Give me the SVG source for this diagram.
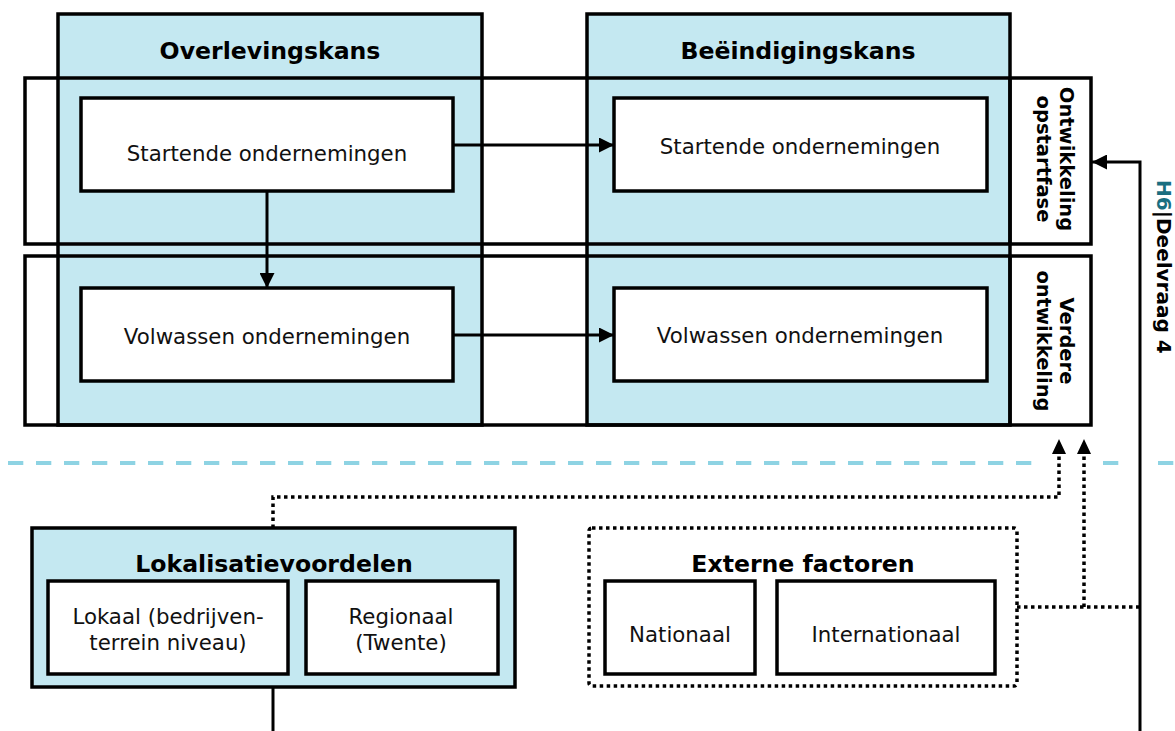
<svg xmlns="http://www.w3.org/2000/svg" width="1175" height="731" viewBox="0 0 1175 731">
<style>
.col{fill:#c4e8f1;stroke:#000;stroke-width:3.5}
.band{fill:none;stroke:#000;stroke-width:3.5}
.box{fill:#fff;stroke:#000;stroke-width:3.5}
.t{font-family:"DejaVu Sans",Verdana,sans-serif;font-size:21.3px;fill:#111;text-anchor:middle}
.h{font-family:"DejaVu Sans",Verdana,sans-serif;font-size:23.6px;font-weight:bold;fill:#000;text-anchor:middle}
.r{font-family:"DejaVu Sans",Verdana,sans-serif;font-size:19.5px;font-weight:bold;fill:#000;text-anchor:middle}
.c{fill:none;stroke:#000;stroke-width:3}
.d{fill:none;stroke:#000;stroke-width:3.5;stroke-dasharray:3.5 3.5}
</style>
<defs>
<marker id="ah" viewBox="0 0 10 10" refX="10" refY="5" markerWidth="5" markerHeight="5" orient="auto" markerUnits="strokeWidth">
<path d="M0,0 L10,5 L0,10 z" fill="#000"/>
</marker>
</defs>
<g id="separator">
<path d="M8,463 H1036 M1103,463 H1121 M1158,463 H1175" fill="none" stroke="#8ed3e3" stroke-width="4" stroke-dasharray="15.3 12.7"/>
</g>
<g id="col-overleving">
<rect class="col" x="58" y="14" width="424" height="411"/>
<text class="h" x="270" y="59">Overlevingskans</text>
</g>
<g id="col-beeindiging">
<rect class="col" x="587" y="14" width="423" height="411"/>
<text class="h" x="798" y="59">Beëindigingskans</text>
</g>
<g id="band-opstart">
<rect class="band" x="25" y="78" width="1066" height="166"/>
<rect x="1012" y="80" width="77" height="162" fill="#fff"/>
<line x1="1010" y1="78" x2="1010" y2="244" stroke="#000" stroke-width="3.5"/>
<text class="r" transform="translate(1060,159) rotate(90)"><tspan x="0" y="0">Ontwikkeling</tspan><tspan x="0" y="23">opstartfase</tspan></text>
</g>
<g id="band-verdere">
<rect class="band" x="25" y="256" width="1066" height="169"/>
<rect x="1012" y="258" width="77" height="165" fill="#fff"/>
<line x1="1010" y1="256" x2="1010" y2="425" stroke="#000" stroke-width="3.5"/>
<text class="r" transform="translate(1060,341) rotate(90)"><tspan x="0" y="0">Verdere</tspan><tspan x="0" y="23">ontwikkeling</tspan></text>
</g>
<g id="start-left">
<rect class="box" x="81" y="98" width="372" height="93"/>
<text class="t" x="267" y="161">Startende ondernemingen</text>
</g>
<g id="volw-left">
<rect class="box" x="81" y="288" width="372" height="93"/>
<text class="t" x="267" y="344">Volwassen ondernemingen</text>
</g>
<g id="start-right">
<rect class="box" x="614" y="98" width="373" height="93"/>
<text class="t" x="800" y="154">Startende ondernemingen</text>
</g>
<g id="volw-right">
<rect class="box" x="614" y="288" width="373" height="93"/>
<text class="t" x="800" y="343">Volwassen ondernemingen</text>
</g>
<g id="lokalisatie">
<rect class="col" x="32" y="528" width="483" height="159"/>
<text class="h" x="274" y="572">Lokalisatievoordelen</text>
<rect class="box" x="48" y="581" width="240" height="93"/>
<text class="t" x="168" y="624">Lokaal (bedrijven-</text>
<text class="t" x="168" y="650">terrein niveau)</text>
<rect class="box" x="306" y="581" width="192" height="93"/>
<text class="t" x="401" y="624">Regionaal</text>
<text class="t" x="401" y="650">(Twente)</text>
</g>
<g id="externe">
<rect x="589" y="528" width="428" height="158" rx="3" fill="none" stroke="#000" stroke-width="3.5" stroke-dasharray="3.5 3.5"/>
<text class="h" x="803" y="572">Externe factoren</text>
<rect class="box" x="605" y="581" width="150" height="93"/>
<text class="t" x="680" y="642">Nationaal</text>
<rect class="box" x="777" y="581" width="218" height="93"/>
<text class="t" x="886" y="642">Internationaal</text>
</g>
<g id="label">
<text font-family="DejaVu Sans,Verdana,sans-serif" font-size="20" font-weight="bold" transform="translate(1157,180) rotate(90)"><tspan fill="#1a6e80">H6</tspan><tspan fill="#000">|Deelvraag 4</tspan></text>
</g>
<g id="connectors">
<line class="c" x1="453" y1="145" x2="614" y2="145" marker-end="url(#ah)"/>
<line class="c" x1="453" y1="335" x2="614" y2="335" marker-end="url(#ah)"/>
<line class="c" x1="267" y1="191" x2="267" y2="288" marker-end="url(#ah)"/>
<polyline class="c" points="1140,731 1140,162 1092,162" marker-end="url(#ah)"/>
<line class="c" x1="273" y1="687" x2="273" y2="731"/>
<polyline class="d" points="273,528 273,497 1059,497 1059,452"/>
<path d="M1052,454 L1059,439 L1066,454 z" fill="#000"/>
<polyline class="d" points="1017,607 1139,607"/>
<polyline class="d" points="1084,607 1084,452"/>
<path d="M1077,454 L1084,439 L1091,454 z" fill="#000"/>
</g>
</svg>
